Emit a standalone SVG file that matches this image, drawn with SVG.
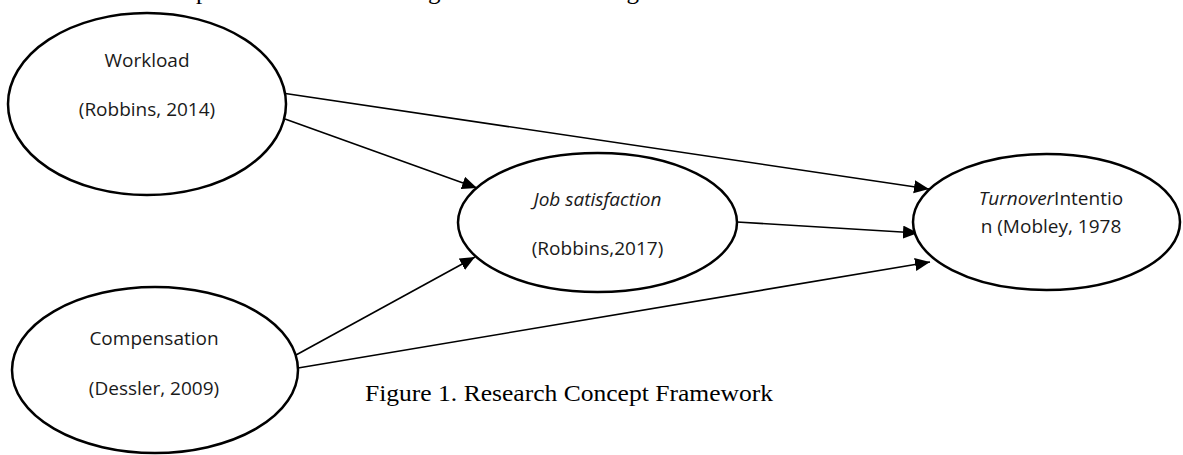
<svg xmlns="http://www.w3.org/2000/svg" width="1183" height="455" viewBox="0 0 1183 455">
<style>
.node{fill:#fff;stroke:#000;stroke-width:2.5}
.lbl{font-family:"Open Sans","Liberation Sans",sans-serif;font-size:19px;fill:#1a1a1a;text-anchor:middle}
.it{font-style:italic}
.edge{fill:none;stroke:#000;stroke-width:1.6}
.serif{font-family:"Liberation Serif","Times New Roman",serif;fill:#000}
</style>
<defs>
<marker id="arr" markerUnits="userSpaceOnUse" markerWidth="16" markerHeight="14" refX="15" refY="6.5" orient="auto">
<path d="M0,0 L15,6.5 L0,13 Z" fill="#000"/>
</marker>
</defs>
<rect width="1183" height="455" fill="#fff"/>
<text class="serif" x="107" y="-1" font-size="25" word-spacing="18.8">of compensation has a significant and negative effect on turnover intention</text>
<g id="connectors">
<line class="edge" x1="282" y1="93" x2="929" y2="189" marker-end="url(#arr)"/>
<line class="edge" x1="285" y1="119" x2="477" y2="188" marker-end="url(#arr)"/>
<line class="edge" x1="296" y1="355" x2="475" y2="257" marker-end="url(#arr)"/>
<line class="edge" x1="298" y1="368" x2="930" y2="262" marker-end="url(#arr)"/>
<line class="edge" x1="737" y1="222" x2="918" y2="233" marker-end="url(#arr)"/>
</g>
<g id="workload">
<ellipse class="node" cx="147" cy="104" rx="139" ry="91"/>
<text class="lbl" x="147" y="67">Workload</text>
<text class="lbl" x="147" y="116">(Robbins, 2014)</text>
</g>
<g id="job-satisfaction">
<ellipse class="node" cx="597.5" cy="222.5" rx="139.5" ry="69.5"/>
<text class="lbl it" x="597.5" y="206">Job satisfaction</text>
<text class="lbl" x="597.5" y="255">(Robbins,2017)</text>
</g>
<g id="turnover-intention">
<ellipse class="node" cx="1046.5" cy="222" rx="133.5" ry="68"/>
<text class="lbl" x="1051" y="205"><tspan class="it">Turnover</tspan>Intentio</text>
<text class="lbl" x="1051" y="233">n (Mobley, 1978</text>
</g>
<g id="compensation">
<ellipse class="node" cx="155" cy="370" rx="143" ry="83"/>
<text class="lbl" x="154" y="345">Compensation</text>
<text class="lbl" x="154" y="395">(Dessler, 2009)</text>
</g>
<text class="serif" x="365" y="401" font-size="24" textLength="408" lengthAdjust="spacingAndGlyphs">Figure 1. Research Concept Framework</text>
</svg>
